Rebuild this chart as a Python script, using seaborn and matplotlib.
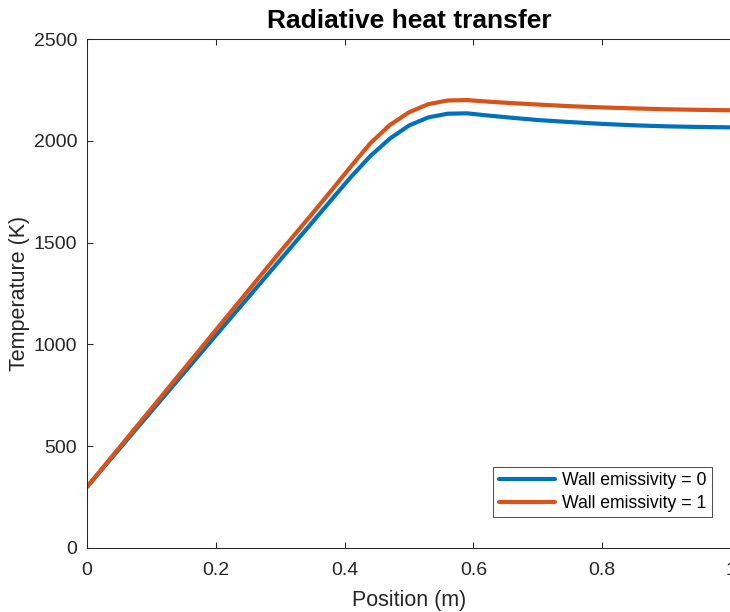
import matplotlib
matplotlib.use("Agg")
import matplotlib.pyplot as plt
import seaborn as sns
import pandas as pd

position = [0, 0.1, 0.2, 0.3, 0.35, 0.38, 0.41, 0.44, 0.47, 0.50, 0.53, 0.56,
            0.59, 0.62, 0.66, 0.7, 0.75, 0.8, 0.85, 0.9, 0.95, 1.0]
temp_eps0 = [300, 672, 1044, 1415, 1600, 1712, 1823, 1925, 2010, 2075, 2115, 2133,
             2135, 2125, 2113, 2102, 2092, 2083, 2076, 2071, 2068, 2066]
temp_eps1 = [300, 685, 1070, 1455, 1643, 1758, 1875, 1988, 2077, 2140, 2180, 2198,
             2200, 2193, 2185, 2178, 2170, 2164, 2159, 2155, 2152, 2150]
series_labels = ["Wall emissivity = 0", "Wall emissivity = 1"]
xticks = [0, 0.2, 0.4, 0.6, 0.8, 1]
xticklabels = ["0", "0.2", "0.4", "0.6", "0.8", "1"]
yticks = [0, 500, 1000, 1500, 2000, 2500]

df = pd.DataFrame({
    "Position": position + position,
    "Temperature": temp_eps0 + temp_eps1,
    "Series": [series_labels[0]] * len(position) + [series_labels[1]] * len(position),
})

sns.set_theme(style="ticks")
plt.rcParams["font.family"] = ["Liberation Sans", "DejaVu Sans"]

fig = plt.figure(figsize=(7.3, 6.12), dpi=100)
ax = fig.add_axes([87 / 730, 1 - 548 / 612, 644 / 730, 509 / 612])

palette = {series_labels[0]: "#0072BD", series_labels[1]: "#D95319"}
sns.lineplot(data=df, x="Position", y="Temperature", hue="Series",
             palette=palette, linewidth=3.0, ax=ax, sort=False)

ax.set_xlim(0, 1)
ax.set_ylim(0, 2500)
ax.set_xticks(xticks)
ax.set_xticklabels(xticklabels)
ax.set_yticks(yticks)

axcol = "#262626"
for s in ["left", "bottom", "top"]:
    ax.spines[s].set_visible(True)
    ax.spines[s].set_color(axcol)
    ax.spines[s].set_linewidth(0.75)
ax.spines["right"].set_visible(False)
ax.tick_params(axis="both", direction="in", length=4.5, width=0.75,
               color=axcol, labelcolor=axcol, labelsize=14,
               top=True, right=False)
ax.tick_params(axis="x", pad=10)
ax.tick_params(axis="y", pad=7)

ax.set_xlabel("Position (m)", fontsize=15.5, color=axcol, labelpad=8)
ax.set_ylabel("Temperature (K)", fontsize=15.5, color=axcol, labelpad=3)
ax.set_title("Radiative heat transfer", fontsize=19, fontweight="bold",
             color="black", pad=8)

leg = ax.legend(loc="lower right", bbox_to_anchor=((712 - 87) / 644, (548 - 517) / 509),
                borderaxespad=0, fontsize=12.7, frameon=True, fancybox=False,
                handlelength=3.2, handletextpad=0.4, borderpad=0.3,
                labelspacing=0.3)
leg.get_frame().set_edgecolor(axcol)
leg.get_frame().set_linewidth(0.75)
for t in leg.get_texts():
    t.set_color("black")

fig.savefig("out.png", dpi=100)
